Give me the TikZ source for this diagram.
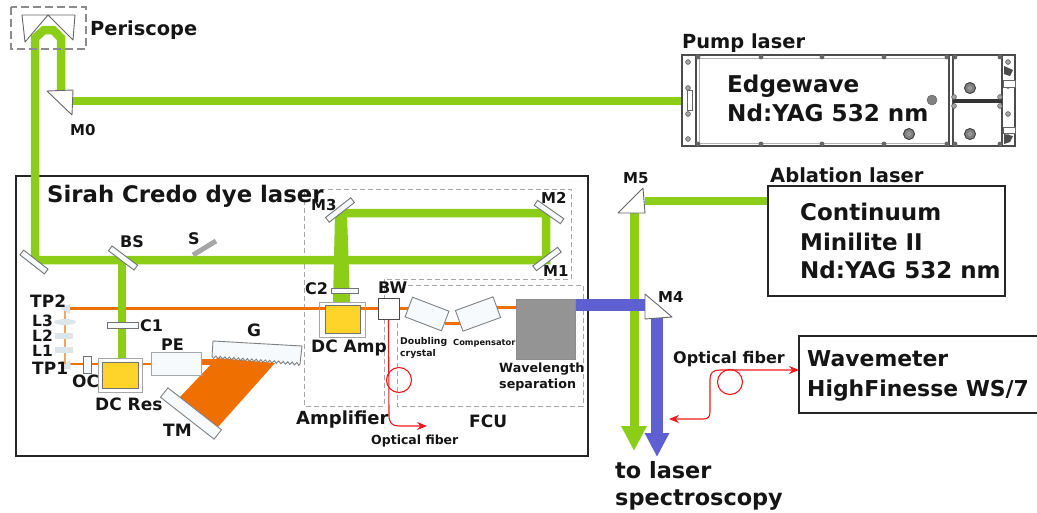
\documentclass[tikz,border=0pt]{standalone}
\usepackage{fontspec}
\setmainfont{DejaVu Sans}
\usetikzlibrary{arrows.meta,decorations.pathmorphing,shapes.geometric}
\definecolor{beamg}{HTML}{8CCE17}
\definecolor{beamb}{HTML}{5E60D2}
\definecolor{beamo}{HTML}{EF7000}
\definecolor{beamol}{HTML}{F3A468}
\definecolor{dcy}{HTML}{FFD42A}
\definecolor{pale}{HTML}{F6FAFD}
\definecolor{lensc}{HTML}{DCE6EA}
\definecolor{fib}{HTML}{F0181C}
\definecolor{txt}{HTML}{151515}
\newcommand\fsz[1]{\fontsize{#1}{#1}\selectfont\bfseries}
\pgfdeclarelayer{under}
\pgfdeclarelayer{beams}
\pgfsetlayers{under,beams,main}
\tikzset{
  lab/.style={anchor=base west,inner sep=0pt,text=txt},
  heavybox/.style={draw=black!85,line width=2.2pt,fill=none},
  labbox/.style={draw=black!85,line width=2.2pt,fill=white,inner sep=0pt},
  dashbox/.style={draw=black!35,line width=0.8pt,dash pattern=on 5pt off 3pt},
  optic/.style={draw=black!55,line width=0.9pt,fill=pale,inner sep=0pt,minimum height=6pt},
  wave/.style={draw=black!50,line width=0.9pt,fill=pale,inner sep=0pt},
  prism/.style={draw=black!60,line width=0.9pt,line join=round},
  green/.style={draw=beamg,line width=8.5pt,line join=miter},
  orangeb/.style={draw=beamo,line width=3pt},
  fibre/.style={draw=fib,line width=1.1pt},
  fibtip/.style={},
  lens/.style={fill=lensc,draw=none},
  screw/.style={draw=black!65,fill=black!35,line width=0.6pt},
  bigscrew/.style={draw=black!75,fill=black!50,line width=1pt},
  pumpl/.style={draw=black!70,line width=1.4pt},
  pumpm/.style={draw=black!30,line width=1pt},
}
\begin{document}
\begin{tikzpicture}[x=1pt,y=-1pt]
\useasboundingbox (0,0) rectangle (1037,512);
% beam waypoints
\coordinate (m0a) at (61,92);
\coordinate (pa) at (61,38);
\coordinate (pb) at (53,30);
\coordinate (pc) at (44,30);
\coordinate (pd) at (35,38);
\coordinate (mlc) at (35,260);
\coordinate (m1c) at (546,260);
\coordinate (m2c) at (546,213);
\coordinate (m3c) at (340,213);
\coordinate (bsc) at (122,260);
\coordinate (resc) at (122,358);
\coordinate (m0h) at (73,101);
\coordinate (m5h) at (645,201);
\coordinate (m5b) at (634,205);
\coordinate (gtip) at (634,451);
\coordinate (m4h) at (650,305);
\coordinate (m4b) at (657,315);
\coordinate (btip) at (657,457);
\coordinate (tp2) at (65,308);
\coordinate (tp1) at (65,364);
% frames
\begin{pgfonlayer}{under}
\node[heavybox,minimum width=572pt,minimum height=280pt,inner sep=0pt] (dye) at (302,316) {};
\draw[dashbox] (304,189) -- (571,189) -- (571,279) -- (384,279) -- (384,406) -- (304,406) -- cycle;
\draw[dashbox] (408,285) -- (583,285) -- (583,406) -- (397,406) -- (397,318);
\end{pgfonlayer}
% instrument boxes
\node[labbox,minimum width=237pt,minimum height=110pt] (abl) at (886.5,241) {};
\node[labbox,minimum width=333pt,minimum height=91pt,draw=black!70] (pump) at (848.5,100.5) {};
\draw[draw=black!85,line width=2.2pt] (1037,336) -- (799,336) -- (799,413) -- (1037,413);
\coordinate (wm) at (799,370);
% pump laser details
\draw[pumpl] (696,55) -- (696,146);
\draw[pumpm] (699,57) -- (699,144);
\draw[pumpl] (949,55) -- (949,146);
\draw[pumpl] (953,55) -- (953,146);
\draw[pumpl] (1002,55) -- (1002,146);
\draw[pumpm] (699,58) -- (947,58);
\draw[pumpm] (699,143) -- (947,143);
\draw[draw=black!80,line width=3.5pt] (953,101) -- (1002,101);
\draw[draw=black!60,line width=1pt,fill=white] (687,90) rectangle (692,110);
\foreach \px in {698,761,822,884,947,955,1000}{
  \fill[black!60] (\px,57) circle (2.4pt);
  \fill[black!60] (\px,144) circle (2.4pt);
}
\foreach \py/\qx in {62/688,88/688,114/688,139/688,97/954,106/954,97/1000,106/1000,62/1008,86/1008,114/1008,137/1008}{
  \draw[screw] (\qx,\py) circle (2.4pt);
}
\foreach \sx/\sy in {970/88,970/134,909/134}{
  \draw[bigscrew] (\sx,\sy) circle (5.5pt);
  \draw[draw=black!30,line width=0.5pt] (\sx,\sy) circle (1.8pt);
}
\draw[fill=black!50,draw=black!60,line width=0.5pt] (932,100) circle (5pt);
\draw[draw=black!60,line width=0.8pt,fill=white] (1003,80) rectangle (1015,87);
\draw[draw=black!60,line width=0.8pt,fill=white] (1003,127) rectangle (1015,133);
\fill[black!70] (1004,66) -- (1013,70) -- (1010,76) -- (1004,74) -- cycle;
\fill[black!70] (1004,134) -- (1013,136) -- (1010,142) -- (1004,144) -- cycle;
% beams
\begin{pgfonlayer}{beams}
\draw[orangeb] (tp2) -- (378,308);
\draw[orangeb] (399,308) -- (413,308);
\draw[orangeb] (445,323) -- (460,323);
\draw[orangeb] (495,307) -- (516,307);
\draw[draw=beamol,line width=2pt] (tp2) -- (tp1);
\draw[draw=beamo,line width=1.7pt] (tp1) -- (151,364);
\draw[draw=beamo,line width=6pt] (200,362) -- (218,362);
\fill[beamo] (217,358) -- (275,363) -- (218,427) -- (180,397) -- cycle;
\draw[green,line width=8pt] (m0h) -- (pump.west |- m0h);
\draw[green] (m0a) -- (pa) -- (pb) -- (pc) -- (pd) -- (mlc) -- (m1c) -- (m2c) -- (m3c);
\fill[beamg] (335,213) -- (347,213) -- (350,302) -- (333,302) -- cycle;
\draw[green] (bsc) -- (resc);
\draw[draw=beamg,line width=9pt,-{Triangle[width=24pt,length=25pt]}] (m5b) -- (gtip);
\draw[draw=beamg,line width=8pt] (m5h) -- (abl.west |- m5h);
\draw[draw=beamb,line width=12pt] (575,305) -- (m4h);
\draw[draw=beamb,line width=12pt,-{Triangle[width=23pt,length=24pt]}] (m4b) -- (btip);
\end{pgfonlayer}
% mirrors and prisms
\draw[prism,fill=white] (47,91) -- (73,90) -- (72,115) -- cycle;
\draw[prism] (22,15) -- (48,15) -- (25,42) -- cycle;
\draw[prism] (48,15) -- (75,15) -- (73,40) -- cycle;
\draw[draw=black!45,line width=1.3pt,dash pattern=on 8pt off 4pt] (11,7) rectangle (86,49);
\draw[prism,fill=white] (618,213) -- (643,188) -- (645,213) -- cycle;
\draw[prism,fill=white] (645,294) -- (672,317) -- (645,319) -- cycle;
\node[optic,minimum width=31pt,rotate=-38] (ml) at (34,262) {};
\node[optic,minimum width=32pt,rotate=-37] (bs) at (123,258) {};
\node[optic,minimum width=31pt,rotate=37] (m1) at (547,259) {};
\node[optic,minimum width=32pt,rotate=-35] (m2) at (549,212) {};
\node[optic,minimum width=32pt,rotate=38] (m3) at (340,210) {};
\draw[draw=black!35,line width=5pt] (193,255) -- (216,241);
\node[optic,minimum width=31pt,minimum height=6pt] (c1) at (122.5,325) {};
\node[optic,minimum width=27pt,minimum height=5pt] (c2) at (344.5,290.5) {};
\node[optic,minimum width=8pt,minimum height=17pt] (oc) at (87,364.5) {};
% telescope
\fill[lensc] (60,308) -- (70,304) -- (70,314) -- cycle;
\fill[lensc] (60,369) -- (71,369) -- (70,359) -- cycle;
\node[lens,ellipse,minimum width=22pt,minimum height=6pt,inner sep=0pt] (l3) at (65,322) {};
\node[lens,minimum width=18pt,minimum height=6pt,inner sep=0pt] (l2) at (64,336) {};
\node[lens,minimum width=18pt,minimum height=6pt,inner sep=0pt] (l1) at (64,350) {};
% dye cells
\node[draw=black!35,line width=1pt,fill=white,minimum width=44pt,minimum height=34pt,inner sep=0pt] (resb) at (120,375) {};
\node[draw=black!55,line width=0.8pt,fill=dcy,minimum width=36pt,minimum height=26pt,inner sep=0pt] (res) at (120,375) {};
\node[draw=black!35,line width=1pt,fill=none,minimum width=46pt,minimum height=35pt,inner sep=0pt] (ampb) at (342,319.5) {};
\node[draw=black!55,line width=0.8pt,fill=dcy,minimum width=35pt,minimum height=28pt,inner sep=0pt] (amp) at (342.5,319) {};
\node[wave,draw=black!35,minimum width=50pt,minimum height=23pt] (pe) at (176,363.5) {};
% grating and telescope mirror
\draw[wave,decoration={zigzag,amplitude=1.3pt,segment length=4.5pt}] (213,341) -- (302,346) -- (300,364) decorate {-- (212,357)} -- cycle;
\node[wave,minimum width=68pt,minimum height=12pt,rotate=-38] (tm) at (191,413.5) {};
% FCU parts
\node[draw=black!70,line width=1pt,fill=white,minimum width=21pt,minimum height=21pt,inner sep=0pt] (bw) at (388.5,308.5) {};
\node[wave,minimum width=39pt,minimum height=21pt,rotate=-21] (dbl) at (427,314) {};
\node[wave,minimum width=40pt,minimum height=22pt,rotate=20] (cmp) at (478,314) {};
\node[draw=black!45,line width=0.6pt,fill=black!42,minimum width=59pt,minimum height=60pt,inner sep=0pt] (wls) at (545.5,329) {};
% fibres
\coordinate (fa) at (427,426);
\coordinate (fc) at (669,419);
\draw[fibre,-{Stealth[length=10pt,width=8pt]}] (bw.south) -- (389,415) .. controls (389,423) and (392,426) .. (399,426) -- (fa);
\draw[fibre] (399,380) circle (12.5pt);
\draw[fibre,{Stealth[length=10pt,width=8pt]}-{Stealth[length=10pt,width=8pt]}] (fc) -- (703,419) .. controls (708,419) and (710,417) .. (710,412) -- (710,379) .. controls (710,373) and (713,370) .. (720,370) -- (wm);
\draw[fibre] (730,382) circle (12.5pt);
% labels
\node[lab,font=\fsz{19.4}] (tper) at (90,35) {Periscope};
\node[lab,font=\fsz{15}] (tm0) at (70,135) {M0};
\node[lab,font=\fsz{19.4}] (tpump) at (682,48) {Pump laser};
\node[lab,font=\fsz{23.1}] (tedge) at (727,92) {Edgewave};
\node[lab,font=\fsz{23.1}] (tedge2) at (727,121) {Nd:YAG 532 nm};
\node[lab,font=\fsz{22.8}] (tsir) at (47,202) {Sirah Credo dye laser};
\node[lab,font=\fsz{15}] at (311,210) {M3};
\node[lab,font=\fsz{15}] at (541,203) {M2};
\node[lab,font=\fsz{15}] at (543,276) {M1};
\node[lab,font=\fsz{15}] at (623,183) {M5};
\node[lab,font=\fsz{15}] at (658,302) {M4};
\node[lab,font=\fsz{16}] at (120,247) {BS};
\node[lab,font=\fsz{16}] at (188,244) {S};
\node[lab,font=\fsz{16}] at (140,331) {C1};
\node[lab,font=\fsz{17}] at (30,307) {TP2};
\node[lab,font=\fsz{15.5}] at (32,326) {L3};
\node[lab,font=\fsz{15.5}] at (32,341) {L2};
\node[lab,font=\fsz{15.5}] at (32,356) {L1};
\node[lab,font=\fsz{17}] at (32,374) {TP1};
\node[lab,font=\fsz{17}] at (72,387) {OC};
\node[lab,font=\fsz{16}] at (161,350) {PE};
\node[lab,font=\fsz{17}] at (247,336) {G};
\node[lab,font=\fsz{17}] at (95,410) {DC Res};
\node[lab,font=\fsz{17}] at (163,436) {TM};
\node[lab,font=\fsz{16}] at (305,294) {C2};
\node[lab,font=\fsz{16}] at (378,293) {BW};
\node[lab,font=\fsz{17}] at (311,352) {DC Amp};
\node[lab,font=\fsz{18}] at (296,424) {Amplifier};
\node[lab,font=\fsz{17}] at (469,427) {FCU};
\node[lab,font=\fsz{12.5}] at (371,444) {Optical fiber};
\node[lab,font=\fsz{9.3}] at (400,344) {Doubling};
\node[lab,font=\fsz{9.3}] at (400,356) {crystal};
\node[lab,font=\fsz{8.3}] at (453,345) {Compensator};
\node[lab,font=\fsz{12.7}] at (499,372) {Wavelength};
\node[lab,font=\fsz{12.7}] at (499,388) {separation};
\node[lab,font=\fsz{19.5}] at (770,182) {Ablation laser};
\node[lab,font=\fsz{23}] at (800,220) {Continuum};
\node[lab,font=\fsz{23}] at (800,250) {Minilite II};
\node[lab,font=\fsz{23}] at (800,278) {Nd:YAG 532 nm};
\node[lab,font=\fsz{16}] at (673,363) {Optical fiber};
\node[lab,font=\fsz{21.9}] at (807,366) {Wavemeter};
\node[lab,font=\fsz{21.9}] at (807,396) {HighFinesse WS/7};
\node[lab,font=\fsz{22.4}] at (615,478) {to laser};
\node[lab,font=\fsz{22.4}] at (615,505) {spectroscopy};
\end{tikzpicture}
\end{document}
